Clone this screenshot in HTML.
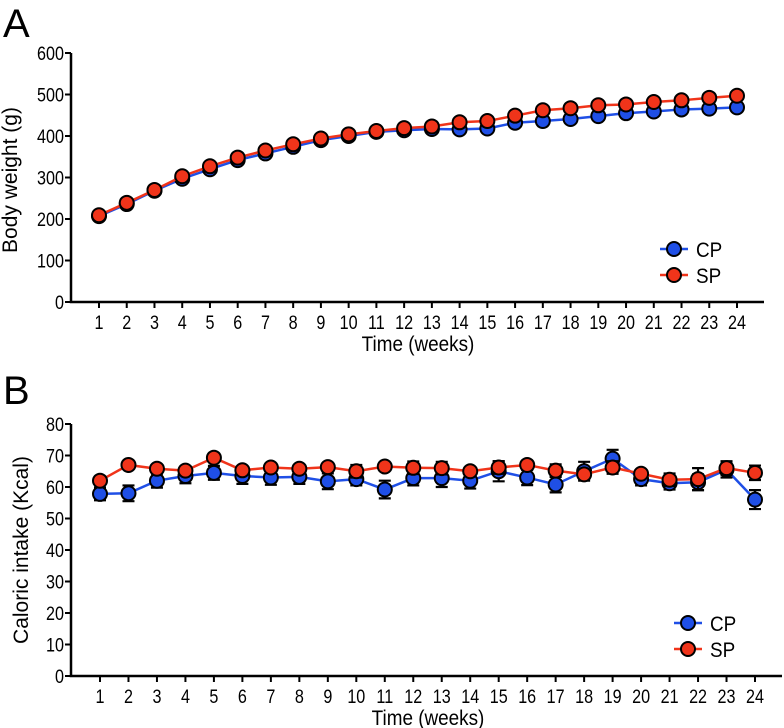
<!DOCTYPE html>
<html><head><meta charset="utf-8"><style>
body{margin:0;background:#fff}
svg{display:block;font-family:"Liberation Sans Narrow","Liberation Sans",sans-serif}
</style></head><body>
<svg id="svg" width="784" height="728" viewBox="0 0 784 728">
<text x="3" y="37" font-size="40" font-family="Liberation Sans,sans-serif">A</text>
<text x="3" y="404" font-size="40" font-family="Liberation Sans,sans-serif">B</text>
<g id="gA"></g>
<g id="gB"></g>
</svg>
<script>
const weeks=[1,2,3,4,5,6,7,8,9,10,11,12,13,14,15,16,17,18,19,20,21,22,23,24];
const bwCP=[207,236,268,297,320,342,358,374,390,400,410,414,417,416,418,432,436,441,448,455,459,464,466,469];
const bwSP=[209,239,270,303,327,348,365,380,394,404,412,419,423,433,436,449,462,467,474,476,482,486,492,497];
const bwTicks=[0,100,200,300,400,500,600];
const ciCP=[57.8,58,62,63.5,64.5,63.5,63,63.2,61.8,62.5,59.2,62.8,62.8,62,65,63,60.8,65,69,62.5,61.2,61.5,65.5,56];
const ciCPerr=[2,2.5,2.2,2.3,2.2,2.5,2.3,2.2,2.5,2,2.8,2.3,2.8,2.5,3.2,2.4,2.5,3,2.8,2,2,2.5,2.5,3];
const ciSP=[62,67,65.8,65.2,69.3,65.3,66.2,65.8,66.3,65,66.5,66.1,66,65,66.2,67,65.2,64,66.2,64.2,62.3,62.5,66,64.5];
const ciSPerr=[1,1,1,1.2,1,1,1.2,1,1.2,2,1,2,2,1,2,1.2,2,1.5,2,1,2,3.5,2.2,2.3];
const ciTicks=[0,10,20,30,40,50,60,70,80];
const NS="http://www.w3.org/2000/svg";
function el(p,t,a){const e=document.createElementNS(NS,t);for(const k in a)e.setAttribute(k,a[k]);p.appendChild(e);return e;}
function chart(g,cfg){
 const X=w=>cfg.x0+(w-1)*(cfg.x1-cfg.x0)/23;
 const Y=v=>cfg.y0-(v-cfg.min)*(cfg.y0-cfg.yTop)/(cfg.max-cfg.min);
 let ax=el(g,'path',{d:`M71 ${Y(cfg.max)}V${cfg.y0}H${cfg.axEnd}`,stroke:'#000','stroke-width':2.5,fill:'none'});
 
 
 cfg.ticks.forEach(t=>{el(g,'line',{x1:65,x2:71,y1:Y(t),y2:Y(t),stroke:'#000','stroke-width':2});
  const tx=el(g,'text',{x:0,y:0,'text-anchor':'end','font-size':19,transform:`translate(64,${Y(t)+7}) scale(0.85,1)`});tx.textContent=t;
  
  });
 weeks.forEach(w=>{el(g,'line',{x1:X(w),x2:X(w),y1:cfg.y0,y2:cfg.y0+6,stroke:'#000','stroke-width':2});
  const tx=el(g,'text',{x:0,y:0,'text-anchor':'middle','font-size':19,transform:`translate(${X(w)},${cfg.y0+27}) scale(0.85,1)`});tx.textContent=w;
  
  });
 let xt=el(g,'text',{x:0,y:0,'text-anchor':'middle','font-size':21,transform:`translate(${cfg.xtX},${cfg.xtY}) scale(0.9,1)`});xt.textContent='Time (weeks)';
 
 
 let yt=el(g,'text',{x:0,y:0,'text-anchor':'middle','font-size':21,transform:`translate(${cfg.ytX},${cfg.ytY}) rotate(-90)`,'font-family':'Liberation Sans,sans-serif'});yt.textContent=cfg.ytitle;
 
 
 const series=[{d:cfg.cp,e:cfg.cpe,c:'#1f4fe6',n:'CP'},{d:cfg.sp,e:cfg.spe,c:'#f0341a',n:'SP'}];
 series.forEach((s,si)=>{
  let p=el(g,'polyline',{points:s.d.map((v,i)=>X(weeks[i])+','+Y(v)).join(' '),fill:'none',stroke:s.c,'stroke-width':2.5});
  
  
  s.d.forEach((v,i)=>{
   if(s.e){const x=X(weeks[i]),a=Y(v+s.e[i]),b=Y(v-s.e[i]);
    el(g,'path',{d:`M${x} ${a}V${b}M${x-6} ${a}H${x+6}M${x-6} ${b}H${x+6}`,stroke:'#000','stroke-width':2.2,fill:'none'});}
   let c=el(g,'circle',{cx:X(weeks[i]),cy:Y(v),r:7,fill:s.c,stroke:'#000','stroke-width':2});
   
   
  });
  const ly=cfg.legY+si*26;
  el(g,'line',{x1:cfg.legX-14,x2:cfg.legX+14,y1:ly,y2:ly,stroke:s.c,'stroke-width':2.5});
  let lc=el(g,'circle',{cx:cfg.legX,cy:ly,r:7,fill:s.c,stroke:'#000','stroke-width':2});
  
  
  let lt=el(g,'text',{x:0,y:0,'font-size':21,transform:`translate(${cfg.legX+22},${ly+8}) scale(0.9,1)`});lt.textContent=s.n;
  
  
 });
}
chart(document.getElementById('gA'),{x0:99,x1:737,axEnd:764,y0:302,yTop:53,min:0,max:600,ticks:bwTicks,cp:bwCP,sp:bwSP,
 xtX:418,xtY:351,ytX:17,ytY:180,ytitle:'Body weight (g)',legX:674,legY:249});
chart(document.getElementById('gB'),{x0:100,x1:755,axEnd:782,y0:676,yTop:424,min:0,max:80,ticks:ciTicks,cp:ciCP,cpe:ciCPerr,sp:ciSP,spe:ciSPerr,
 xtX:428,xtY:725,ytX:28,ytY:550,ytitle:'Caloric intake (Kcal)',legX:688,legY:623});
</script>
</body></html>
